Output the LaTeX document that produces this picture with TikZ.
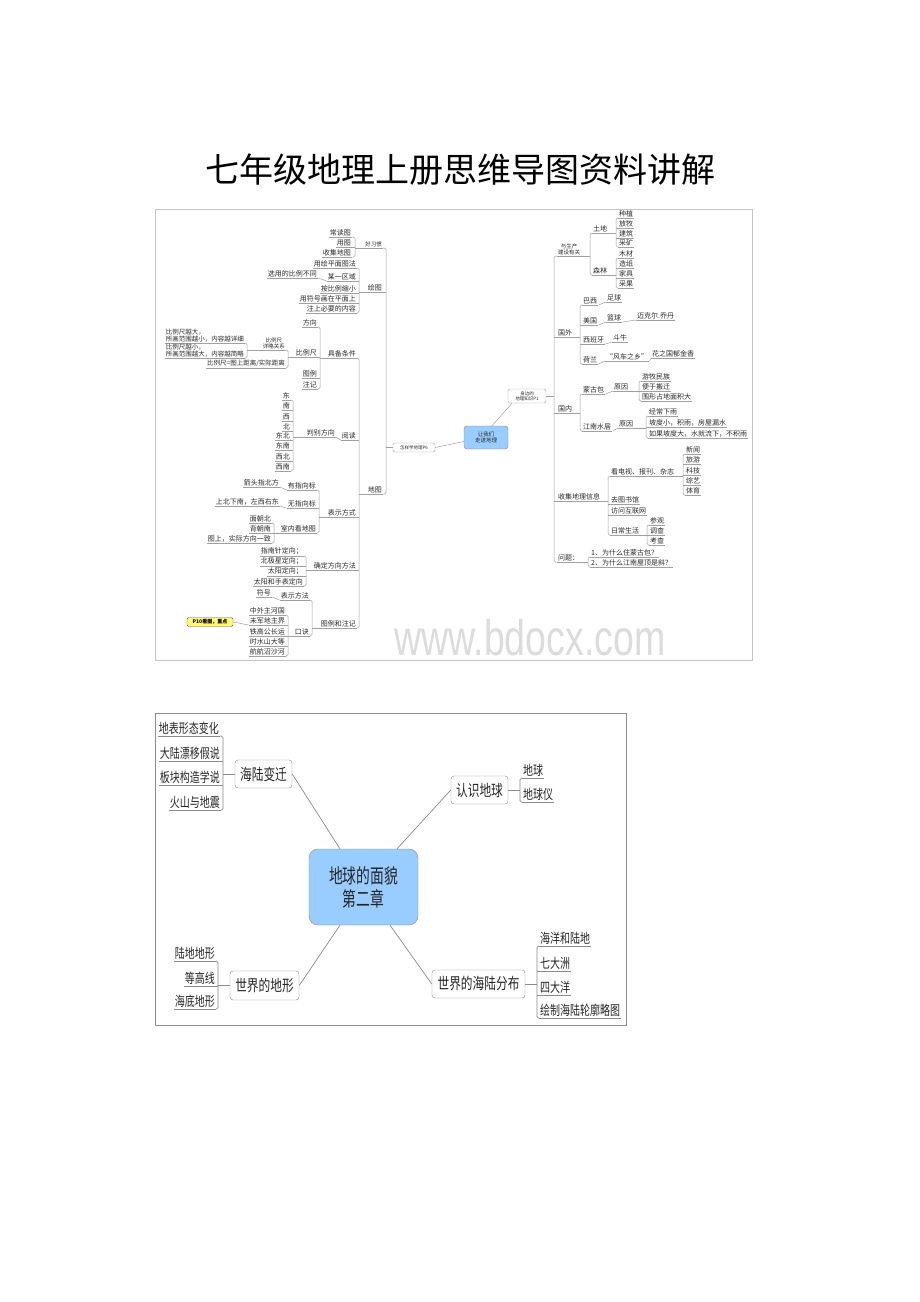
\documentclass[tikz,border=0pt]{standalone}
\usepackage{fontspec}
\usepackage{graphicx}
\setmainfont{Noto Sans CJK SC}
\newfontfamily\wmfont{Liberation Sans}
\usetikzlibrary{calc}
\definecolor{lnc}{HTML}{A0A0A0}
\definecolor{lnd}{HTML}{8A8A8A}
\definecolor{blu}{HTML}{99CCFF}
\definecolor{txt}{HTML}{2A2A2A}
\definecolor{frm}{HTML}{C4C4C4}
\definecolor{frmb}{HTML}{8C8C8C}
\definecolor{wmc}{HTML}{DCDCDC}
\tikzset{
 ln/.style={draw=lnc,line width=0.5pt},
 t7/.style={font=\fontsize{7}{8}\selectfont,text=txt,inner xsep=1pt,inner ysep=1pt},
 t6c/.style={font=\fontsize{5.5}{6}\selectfont,text=txt,inner xsep=1pt,inner ysep=1pt,align=center},
 t65/.style={font=\fontsize{6.5}{7}\selectfont,text=txt,inner xsep=1pt,inner ysep=1pt},
 t6l/.style={font=\fontsize{6.5}{7}\selectfont,text=txt,inner xsep=1pt,inner ysep=1pt,align=left},
 t2/.style={font=\fontsize{10}{12}\selectfont,text=black!85,inner xsep=1pt,inner ysep=1.5pt},
 cbox/.style={draw=lnd,fill=blu,rounded corners=3pt,font=\fontsize{5.5}{6.5}\selectfont,align=center,inner sep=0pt,text=txt},
 sbox/.style={draw=lnc,fill=white,rounded corners=1.5pt,font=\fontsize{4.5}{5}\selectfont,align=center,inner sep=0pt,text=txt},
 hlbox/.style={draw=black!60,fill=yellow!55,rounded corners=1.5pt,font=\bfseries\fontsize{5}{6}\selectfont,inner sep=0pt,minimum width=46pt,minimum height=9pt},
 bigbox/.style={draw=frmb,fill=white,rounded corners=3pt,font=\fontsize{11.7}{14}\selectfont,inner sep=0pt,minimum height=28pt,text=black!85},
 ccbox/.style={draw=frmb,fill=blu,rounded corners=9pt,font=\fontsize{13.8}{23}\selectfont,align=center,inner sep=0pt,minimum width=109pt,minimum height=76pt,text=black!85},
}
\newcommand\tallt[1]{\scalebox{1}[1.35]{#1}}
\newcommand\LNode[5][t7]{\node[#1,anchor=south east] (#2) at (#3,#4) {#5};\draw[ln] (#2.south west)--(#2.south east);}
\newcommand\RNode[5][t7]{\node[#1,anchor=south west] (#2) at (#3,#4) {#5};\draw[ln] (#2.south west)--(#2.south east);}
\newcommand\LBr[4]{\coordinate (bk) at (#1,0);
 \draw[ln,rounded corners=1.5pt] (#2.south east) -| (bk |- #4) |- (#3.south east);
 \draw[ln] (bk |- #4) -- (#4);}
\newcommand\RBr[4]{\coordinate (bk) at (#1,0);
 \draw[ln,rounded corners=1.5pt] (#2.south west) -| (bk |- #4) |- (#3.south west);
 \draw[ln] (bk |- #4) -- (#4);}
\newcommand\LMid[2]{\coordinate (bk) at (#1,0);\foreach \n in {#2}{\draw[ln] (\n.south east) -- (\n.south east -| bk);}}
\newcommand\RMid[2]{\coordinate (bk) at (#1,0);\foreach \n in {#2}{\draw[ln] (\n.south west) -- (\n.south west -| bk);}}
\begin{document}
\begin{tikzpicture}[x=1pt,y=-1pt]
\useasboundingbox (0,0) rectangle (920,1302);
\fill[white] (0,0) rectangle (920,1302);
% title
\node (title) at (460,170) {\fontsize{34}{40}\selectfont 七年级地理上册思维导图资料讲解};
% ================= map 1
\draw[frm,line width=0.8pt] (155,209.5) rectangle (752,660);
\node[anchor=base,text=wmc,inner sep=0pt] (wm) at (530,655) {\wmfont\fontsize{50}{50}\selectfont\scalebox{0.75}[1]{www.bdocx.com}};
\node[cbox,minimum width=44pt,minimum height=23pt] (ctr) at (486,437.5) {让我们\\走进地理};
\node[sbox,minimum width=38pt,minimum height=14pt] (p1) at (527,396) {身边的\\地理知识P1};
\node[sbox,minimum width=42pt,minimum height=9pt] (p6) at (414,447.5) {怎样学地理P6};
\draw[ln] ([xshift=6pt]ctr.north) -- ([xshift=-15pt]p1.south);
\draw[ln] ([yshift=-4pt]ctr.west) -- (p6.east);
% left main
\LNode[t6c]{hx}{383}{248}{好习惯}
\LNode{ht}{383}{292}{绘图}
\LNode{dt}{383}{494}{地图}
\LBr{386}{hx}{dt}{p6.west}
\LMid{386}{ht}
% 好习惯
\LNode{c1}{352}{237}{常读图}
\LNode{c2}{352}{247}{用图}
\LNode{c3}{352}{257}{收集地图}
\LBr{355}{c1}{c3}{hx.south west}
\LMid{355}{c2}
% 绘图
\LNode{h1}{357}{268}{用绘平面图法}
\LNode{h2}{357}{281}{某一区域}
\LNode{h3}{357}{293}{按比例缩小}
\LNode{h4}{357}{303}{用符号画在平面上}
\LNode{h5}{357}{313}{注上必要的内容}
\LBr{359}{h1}{h5}{ht.south west}
\LMid{359}{h2,h3,h4}
\LNode{h2a}{318}{278}{选用的比例不同}
\draw[ln] (h2a.south east) -- (h2.south west);
% 地图
\LNode{d1}{357}{358}{具备条件}
\LNode{d2}{357}{440}{阅读}
\LNode{d3}{357}{517}{表示方式}
\LNode{d4}{357}{570}{确定方向方法}
\LNode{d5}{357}{628}{图例和注记}
\LBr{359}{d1}{d5}{dt.south west}
\LMid{359}{d2,d3,d4}
% 具备条件
\LNode{e1}{318}{327}{方向}
\LNode{e2}{318}{357}{比例尺}
\LNode{e3}{318}{378}{图例}
\LNode{e4}{318}{389}{注记}
\LBr{320}{e1}{e4}{d1.south west}
\LMid{320}{e2,e3}
\LNode[t6c]{f1}{286}{350}{比例尺\\详略关系}
\LNode[t65]{f2}{286}{368}{比例尺=图上距离/实际距离}
\LBr{288}{f1}{f2}{e2.south west}
\LNode[t6l]{g1}{245}{343}{比例尺越大，\\所画范围越小，内容越详细}
\LNode[t6l]{g2}{245}{358}{比例尺越小，\\所画范围越大，内容越简略}
\LBr{247}{g1}{g2}{f1.south west}
% 判别方向
\LNode{k1}{291}{400}{东}
\LNode{k2}{291}{410}{南}
\LNode{k3}{291}{421}{西}
\LNode{k4}{291}{431}{北}
\LNode{k5}{291}{440}{东北}
\LNode{k6}{291}{450}{东南}
\LNode{k7}{291}{461}{西北}
\LNode{k8}{291}{471}{西南}
\LNode{k0}{336}{437}{判别方向}
\LBr{293}{k1}{k8}{k0.south west}
\LMid{293}{k2,k3,k4,k5,k6,k7}
\draw[ln] (k0.south east) -- (d2.south west);
% 表示方式
\LNode{m1}{317}{490}{有指向标}
\LNode{m2}{317}{508}{无指向标}
\LNode{m3}{317}{533}{室内看地图}
\LBr{319}{m1}{m3}{d3.south west}
\LMid{319}{m2}
\LNode{m1a}{280}{487}{箭头指北方}
\draw[ln] (m1a.south east) -- (m1.south west);
\LNode{m2a}{280}{506}{上北下南，左西右东}
\draw[ln] (m2a.south east) -- (m2.south west);
\LNode{m3a}{272}{523}{面朝北}
\LNode{m3b}{272}{533}{背朝南}
\LNode{m3c}{272}{543}{图上，实际方向一致}
\LBr{274}{m3a}{m3c}{m3.south west}
\LMid{274}{m3b}
% 确定方向方法
\LNode{n1}{304}{556}{指南针定向；}
\LNode{n2}{304}{566}{北极星定向；}
\LNode{n3}{304}{576}{太阳定向；}
\LNode{n4}{304}{586}{太阳和手表定向}
\LBr{306}{n1}{n4}{d4.south west}
\LMid{306}{n2,n3}
% 图例和注记
\LNode{pp1}{310}{600}{表示方法}
\LNode{pp2}{310}{636}{口诀}
\LBr{312}{pp1}{pp2}{d5.south west}
\LNode{pp1a}{272}{597}{符号}
\draw[ln] (pp1a.south east) -- (pp1.south west);
\LNode{q1}{286}{615}{中外主河国}
\LNode{q2}{286}{625}{未军地主界}
\LNode{q3}{286}{636}{铁高公长运}
\LNode{q4}{286}{646}{时水山大等}
\LNode{q5}{286}{656}{航航沼沙河}
\LBr{288}{q1}{q5}{pp2.south west}
\LMid{288}{q2,q3,q4}
\node[hlbox] (yl) at (210,622) {P10看图，重点};
\draw[ln] (yl.east) -- (q2.south west);
% right main
\RNode[t6c]{r1}{557}{256}{与生产\\建设有关}
\RNode{r2}{557}{337}{国外}
\RNode{r3}{557}{413}{国内}
\RNode{r4}{557}{501}{收集地理信息}
\RNode{r5}{557}{562}{问题：}
\RBr{554}{r1}{r5}{p1.east}
\RMid{554}{r2,r3,r4}
% 与生产建设有关
\RNode{s1}{592}{233}{土地}
\RNode{s2}{592}{275}{森林}
\RBr{590}{s1}{s2}{r1.south east}
\RNode{s1a}{618}{218}{种植}
\RNode{s1b}{618}{228}{放牧}
\RNode{s1c}{618}{238}{建筑}
\RNode{s1d}{618}{247}{采矿}
\RBr{616}{s1a}{s1d}{s1.south east}
\RMid{616}{s1b,s1c}
\RNode{s2a}{618}{258}{木材}
\RNode{s2b}{618}{268}{造纸}
\RNode{s2c}{618}{278}{家具}
\RNode{s2d}{618}{288}{采果}
\RBr{616}{s2a}{s2d}{s2.south east}
\RMid{616}{s2b,s2c}
% 国外
\RNode{t1}{582}{305}{巴西}
\RNode{t2}{582}{325}{美国}
\RNode{t3}{582}{344}{西班牙}
\RNode{t4}{582}{364}{荷兰}
\RBr{580}{t1}{t4}{r2.south east}
\RMid{580}{t2,t3}
\RNode{t1a}{606}{302}{足球}
\draw[ln] (t1.south east) -- (t1a.south west);
\RNode{t2a}{606}{322}{篮球}
\draw[ln] (t2.south east) -- (t2a.south west);
\RNode{t2b}{636}{320}{迈克尔.乔丹}
\draw[ln] (t2a.south east) -- (t2b.south west);
\RNode{t3a}{612}{342}{斗牛}
\draw[ln] (t3.south east) -- (t3a.south west);
\RNode{t4a}{605}{361}{“风车之乡”}
\draw[ln] (t4.south east) -- (t4a.south west);
\RNode{t4b}{651}{358}{花之国郁金香}
\draw[ln] (t4a.south east) -- (t4b.south west);
% 国内
\RNode{u1}{582}{394}{蒙古包}
\RNode{u2}{582}{431}{江南水居}
\RBr{580}{u1}{u2}{r3.south east}
\RNode{u1a}{613}{391}{原因}
\draw[ln] (u1.south east) -- (u1a.south west);
\RNode{u1b}{641}{381}{游牧民族}
\RNode{u1c}{641}{391}{便于搬迁}
\RNode{u1d}{641}{401}{围形占地面积大}
\RBr{639}{u1b}{u1d}{u1a.south east}
\RMid{639}{u1c}
\RNode{u2a}{618}{428}{原因}
\draw[ln] (u2.south east) -- (u2a.south west);
\RNode{u2b}{648}{416}{经常下雨}
\RNode{u2c}{648}{427}{坡度小，积雨，房屋漏水}
\RNode{u2d}{648}{438}{如果坡度大，水就流下，不积雨}
\RBr{646}{u2b}{u2d}{u2a.south east}
\RMid{646}{u2c}
% 收集地理信息
\RNode{v1}{610}{476}{看电视、报刊、杂志}
\RNode{v2}{610}{504}{去图书馆}
\RNode{v3}{610}{515}{访问互联网}
\RNode{v4}{610}{535}{日常生活}
\RBr{608}{v1}{v4}{r4.south east}
\RMid{608}{v2,v3}
\RNode{v1a}{685}{454}{新闻}
\RNode{v1b}{685}{464}{旅游}
\RNode{v1c}{685}{475}{科技}
\RNode{v1d}{685}{485}{综艺}
\RNode{v1e}{685}{495}{体育}
\RBr{683}{v1a}{v1e}{v1.south east}
\RMid{683}{v1b,v1c,v1d}
\RNode{v4a}{649}{525}{参观}
\RNode{v4b}{649}{535}{调查}
\RNode{v4c}{649}{545}{考查}
\RBr{647}{v4a}{v4c}{v4.south east}
\RMid{647}{v4b}
% 问题
\RNode{w1}{590}{557}{1、为什么住蒙古包？}
\RNode{w2}{590}{567}{2、为什么江南屋顶是斜？}
\RBr{588}{w1}{w2}{r5.south east}
% ================= map 2
\begin{scope}[ln/.style={draw=lnd,line width=0.7pt}]
\draw[frmb,line width=0.8pt] (155,713) rectangle (626,1025);
\node[ccbox] (cc) at (363.5,887) {\scalebox{1}[1.45]{地球的面貌}\\\scalebox{1}[1.45]{第二章}};
\node[bigbox,minimum width=57pt] (b1) at (263.5,774) {\tallt{海陆变迁}};
\node[bigbox,minimum width=57pt] (b2) at (479.5,790) {\tallt{认识地球}};
\node[bigbox,minimum width=69pt,minimum height=29pt] (b3) at (264.5,985.5) {\tallt{世界的地形}};
\node[bigbox,minimum width=93pt] (b4) at (478.5,984) {\tallt{世界的海陆分布}};
\draw[ln] (b1.east) -- ([xshift=-23.5pt]cc.north);
\draw[ln] ([xshift=33.5pt]cc.north) -- (b2.west);
\draw[ln] ([xshift=-23.5pt]cc.south) -- (b3.east);
\draw[ln] ([xshift=26.5pt]cc.south) -- (b4.west);
\LNode[t2]{a1}{220}{736}{\tallt{地表形态变化}}
\LNode[t2]{a2}{221}{761}{\tallt{大陆漂移假说}}
\LNode[t2]{a3}{221}{785}{\tallt{板块构造学说}}
\LNode[t2]{a4}{221}{810}{\tallt{火山与地震}}
\LBr{223}{a1}{a4}{b1.west}
\LMid{223}{a2,a3}
\RNode[t2]{a5}{522}{778}{\tallt{地球}}
\RNode[t2]{a6}{522}{802}{\tallt{地球仪}}
\RBr{520}{a5}{a6}{b2.east}
\LNode[t2]{a7}{216}{961}{\tallt{陆地地形}}
\LNode[t2]{a8}{216}{986}{\tallt{等高线}}
\LNode[t2]{a9}{216}{1009}{\tallt{海底地形}}
\LBr{218}{a7}{a9}{b3.west}
\LMid{218}{a8}
\RNode[t2]{a10}{539}{946}{\tallt{海洋和陆地}}
\RNode[t2]{a11}{539}{971}{\tallt{七大洲}}
\RNode[t2]{a12}{539}{995}{\tallt{四大洋}}
\RNode[t2]{a13}{539}{1018}{\tallt{绘制海陆轮廓略图}}
\RBr{537}{a10}{a13}{b4.east}
\RMid{537}{a11,a12}
\end{scope}
\end{tikzpicture}
\end{document}
